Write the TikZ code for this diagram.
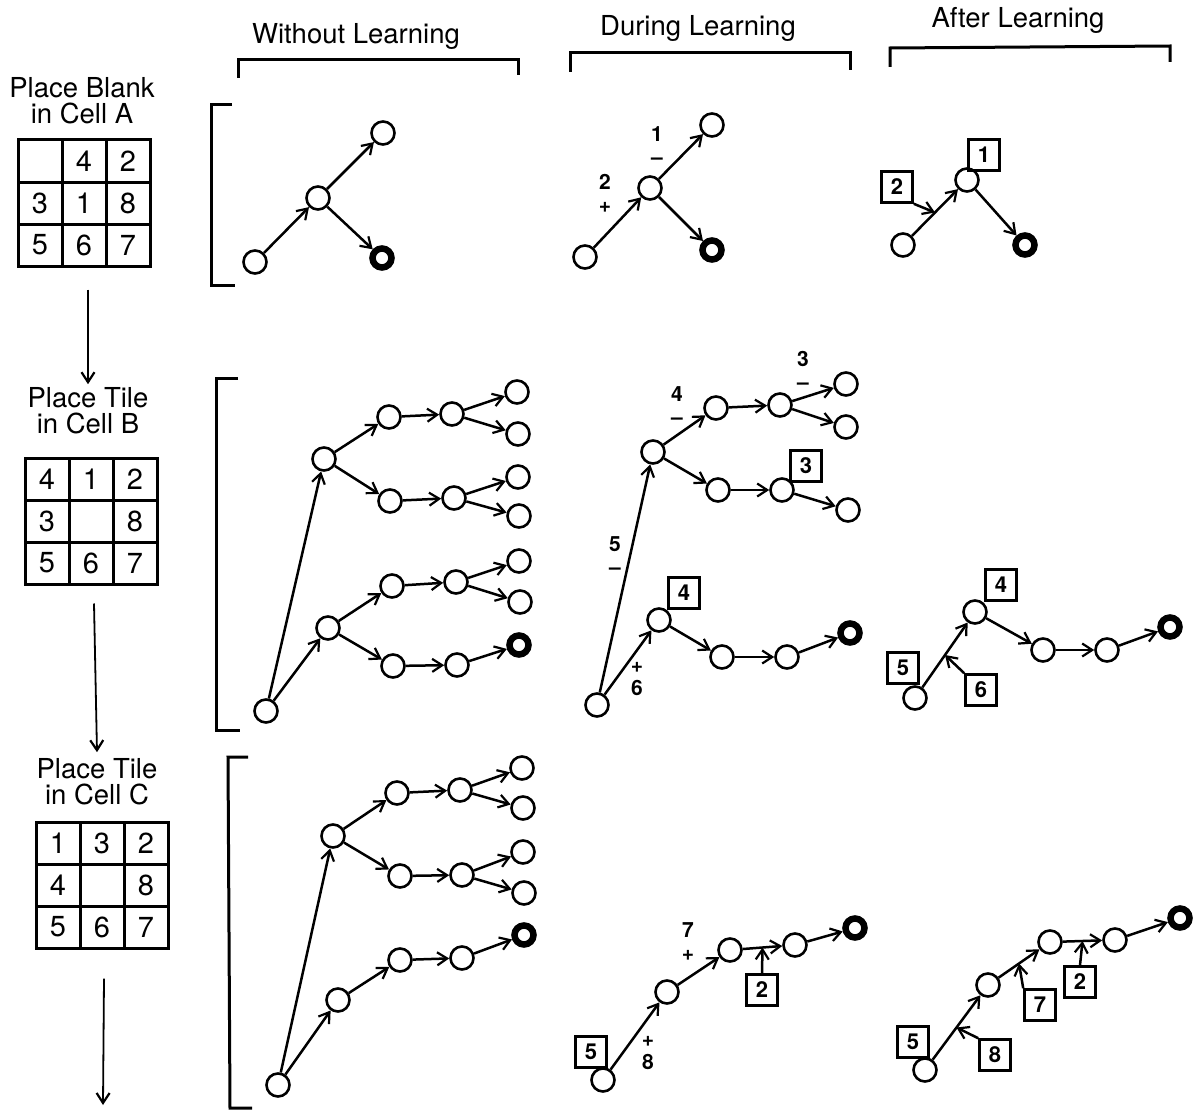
\documentclass[tikz,border=0pt]{standalone}
\usepackage{fontspec}
\setmainfont{TeX Gyre Heros}
\usetikzlibrary{arrows.meta,calc}

\tikzset{
  st/.style={circle, draw, line width=2.6pt, minimum size=23pt, inner sep=0pt},
  goal/.style={circle, draw, line width=6.5pt, minimum size=19pt, inner sep=0pt},
  tag/.style={draw, line width=2.6pt, minimum width=31pt, minimum height=31pt, inner sep=0pt, font=\fontsize{22}{22}\selectfont\bfseries},
  mv/.style={-{Straight Barb[length=10pt, width=13pt, line width=2.2pt]}, line width=2.5pt},
  sgn/.style={align=center, font=\fontsize{21}{23}\selectfont\bfseries, inner sep=0pt},
  cell/.style={draw, line width=3pt, minimum width=44pt, minimum height=42pt, inner sep=0pt, font=\fontsize{29}{29}\selectfont},
  colhead/.style={font=\fontsize{27.5}{28}\selectfont},
  caption/.style={align=center, font=\fontsize{27.5}{26}\selectfont},
  brk/.style={line width=3pt},
}

% one 3x3 board: name, left, top, entries
\newcommand\puzzle[4]{%
  \foreach \t [count=\i from 0] in {#4} {
    \pgfmathtruncatemacro\cx{mod(\i,3)}
    \pgfmathtruncatemacro\cy{div(\i,3)}
    \node[cell] (#1\i) at ({#2+44*\cx+22},{#3+42*\cy+21}) {\t};
  }}

\begin{document}
\begin{tikzpicture}[x=1pt, y=-1pt]
  \useasboundingbox (0,0) rectangle (1197,1113);

  %% column heads
  \node[colhead] (hW) at (356,36) {Without Learning};
  \node[colhead] (hD) at (698,28) {During Learning};
  \node[colhead] (hF) at (1018,20) {After Learning};
  \draw[brk] (238,78) -- (238,60) -- (518,60) -- (518,75);
  \draw[brk] (570,72) -- (570,53) -- (850,53) -- (850,70);
  \draw[brk] (890,67) -- (890,48) -- (1170,46) -- (1170,62);

  %% row brackets
  \draw[brk] (232,105) -- (211,105) -- (211,285) -- (235,285);
  \draw[brk] (238,378) -- (216,378) -- (216,730) -- (240,730);
  \draw[brk] (248,757) -- (228,757) -- (230,1108) -- (252,1108);

  %% left column: subgoals
  \node[caption] (capA) at (82,101) {Place Blank\\in Cell A};
  \puzzle{gA}{18}{140}{{},4,2,3,1,8,5,6,7}
  \node[caption] (capB) at (88,411) {Place Tile\\in Cell B};
  \puzzle{gB}{25}{458}{4,1,2,3,{},8,5,6,7}
  \node[caption] (capC) at (97,782) {Place Tile\\in Cell C};
  \puzzle{gC}{36}{822}{1,3,2,4,{},8,5,6,7}
  \coordinate (endC) at (103,1105);

  \draw[mv, line width=1.8pt] ([xshift=4pt, yshift=-22pt]gA7.south) -- (capB.north);
  \draw[mv, line width=1.8pt] ([xshift=3pt, yshift=-18pt]gB7.south) -- ([yshift=3pt]capC.north);
  \draw[mv, line width=1.8pt] ([xshift=2pt, yshift=-29pt]gC7.south) -- (endC);

  %% row A, without learning
  \node[st] (Aw0) at (255,262) {};
  \node[st] (Aw1) at (318,198) {};
  \node[st] (Aw2) at (383,133) {};
  \node[goal] (Aw3) at (382,258) {};
  \draw[mv] (Aw0) -- (Aw1);
  \draw[mv] (Aw1) -- (Aw2);
  \draw[mv] (Aw1) -- (Aw3);

  %% row A, during learning
  \node[st] (Ad0) at (585,257) {};
  \node[st] (Ad1) at (650,188) {};
  \node[st] (Ad2) at (712,125) {};
  \node[goal] (Ad3) at (712,250) {};
  \draw[mv] (Ad0) -- (Ad1);
  \draw[mv] (Ad1) -- (Ad2);
  \draw[mv] (Ad1) -- (Ad3);
  \node[sgn] (Ads1) at (657,146) {1\\--};
  \node[sgn] (Ads2) at (605,193) {2\\+};

  %% row A, after learning
  \node[st] (Af0) at (903,245) {};
  \node[st] (Af1) at (967,180) {};
  \node[goal] (Af3) at (1025,245) {};
  \draw[mv] (Af0) -- (Af1);
  \draw[mv] (Af1) -- (Af3);
  \node[tag] (Aft1) at (984,155) {1};
  \node[tag] (Aft2) at (897,187) {2};
  \draw[mv] (Aft2.south east) -- ($(Af0)!0.5!(Af1)$);

  %% row B, without learning
  \node[st] (Bw0) at (266,711) {};
  \node[st] (Bw1) at (324,459) {};
  \node[st] (Bw2) at (389,417) {};
  \node[st] (Bw3) at (452,414) {};
  \node[st] (Bw4) at (517,392) {};
  \node[st] (Bw5) at (518,434) {};
  \node[st] (Bw6) at (390,501) {};
  \node[st] (Bw7) at (454,498) {};
  \node[st] (Bw8) at (518,477) {};
  \node[st] (Bw9) at (519,516) {};
  \node[st] (Bw10) at (328,628) {};
  \node[st] (Bw11) at (392,586) {};
  \node[st] (Bw12) at (456,582) {};
  \node[st] (Bw13) at (519,561) {};
  \node[st] (Bw14) at (520,602) {};
  \node[st] (Bw15) at (393,666) {};
  \node[st] (Bw16) at (457,665) {};
  \node[goal] (Bw17) at (519,645) {};
  \foreach \a/\b in {0/1,1/2,2/3,3/4,3/5,1/6,6/7,7/8,7/9,0/10,10/11,11/12,12/13,12/14,10/15,15/16,16/17}
    \draw[mv] (Bw\a) -- (Bw\b);

  %% row B, during learning
  \node[st] (Bd0) at (597,705) {};
  \node[st] (Bd1) at (653,452) {};
  \node[st] (Bd2) at (716,408) {};
  \node[st] (Bd3) at (780,405) {};
  \node[st] (Bd4) at (846,384) {};
  \node[st] (Bd5) at (846,427) {};
  \node[st] (Bd6) at (718,490) {};
  \node[st] (Bd7) at (782,490) {};
  \node[st] (Bd8) at (848,510) {};
  \node[st] (Bd9) at (659,620) {};
  \node[st] (Bd10) at (722,657) {};
  \node[st] (Bd11) at (787,657) {};
  \node[goal] (Bd12) at (850,633) {};
  \foreach \a/\b in {0/1,1/2,2/3,3/4,3/5,1/6,6/7,7/8,0/9,9/10,10/11,11/12}
    \draw[mv] (Bd\a) -- (Bd\b);
  \node[tag] (Bdt3) at (806,466) {3};
  \node[tag] (Bdt4) at (684,593) {4};
  \node[sgn] (Bds4) at (677,406) {4\\--};
  \node[sgn] (Bds3) at (803,370) {3\\--};
  \node[sgn] (Bds5) at (615,556) {5\\--};
  \node[sgn] (Bds6) at (637,679) {+\\6};

  %% row B, after learning
  \node[st] (Bf0) at (915,698) {};
  \node[st] (Bf1) at (975,612) {};
  \node[st] (Bf2) at (1043,650) {};
  \node[st] (Bf3) at (1107,650) {};
  \node[goal] (Bf4) at (1170,627) {};
  \foreach \a/\b in {0/1,1/2,2/3,3/4}
    \draw[mv] (Bf\a) -- (Bf\b);
  \node[tag] (Bft5) at (903,668) {5};
  \node[tag] (Bft4) at (1001,585) {4};
  \node[tag] (Bft6) at (981,690) {6};
  \draw[mv] (Bft6.north west) -- ($(Bf0)!0.5!(Bf1)$);

  %% row C, without learning
  \node[st] (Cw0) at (278,1085) {};
  \node[st] (Cw1) at (333,836) {};
  \node[st] (Cw2) at (397,793) {};
  \node[st] (Cw3) at (460,790) {};
  \node[st] (Cw4) at (522,768) {};
  \node[st] (Cw5) at (523,808) {};
  \node[st] (Cw6) at (400,876) {};
  \node[st] (Cw7) at (462,875) {};
  \node[st] (Cw8) at (523,852) {};
  \node[st] (Cw9) at (524,893) {};
  \node[st] (Cw10) at (338,1000) {};
  \node[st] (Cw11) at (400,960) {};
  \node[st] (Cw12) at (462,958) {};
  \node[goal] (Cw13) at (524,935) {};
  \foreach \a/\b in {0/1,1/2,2/3,3/4,3/5,1/6,6/7,7/8,7/9,0/10,10/11,11/12,12/13}
    \draw[mv] (Cw\a) -- (Cw\b);

  %% row C, during learning
  \node[st] (Cd0) at (603,1080) {};
  \node[st] (Cd1) at (667,992) {};
  \node[st] (Cd2) at (730,950) {};
  \node[st] (Cd3) at (795,945) {};
  \node[goal] (Cd4) at (855,928) {};
  \foreach \a/\b in {0/1,1/2,2/3,3/4}
    \draw[mv] (Cd\a) -- (Cd\b);
  \node[tag] (Cdt5) at (591,1052) {5};
  \node[tag] (Cdt2) at (762,990) {2};
  \draw[mv] (Cdt2.north) -- ($(Cd2)!0.5!(Cd3)$);
  \node[sgn] (Cds7) at (688,942) {7\\+};
  \node[sgn] (Cds8) at (648,1053) {+\\8};

  %% row C, after learning
  \node[st] (Cf0) at (925,1070) {};
  \node[st] (Cf1) at (988,985) {};
  \node[st] (Cf2) at (1050,942) {};
  \node[st] (Cf3) at (1115,940) {};
  \node[goal] (Cf4) at (1180,918) {};
  \foreach \a/\b in {0/1,1/2,2/3,3/4}
    \draw[mv] (Cf\a) -- (Cf\b);
  \node[tag] (Cft5) at (913,1042) {5};
  \node[tag] (Cft8) at (995,1055) {8};
  \node[tag] (Cft7) at (1040,1005) {7};
  \node[tag] (Cft2) at (1080,982) {2};
  \draw[mv] (Cft8.north west) -- ($(Cf0)!0.5!(Cf1)$);
  \draw[mv] (Cft7.north west) -- ($(Cf1)!0.5!(Cf2)$);
  \draw[mv] (Cft2.north) -- ($(Cf2)!0.5!(Cf3)$);
\end{tikzpicture}
\end{document}
